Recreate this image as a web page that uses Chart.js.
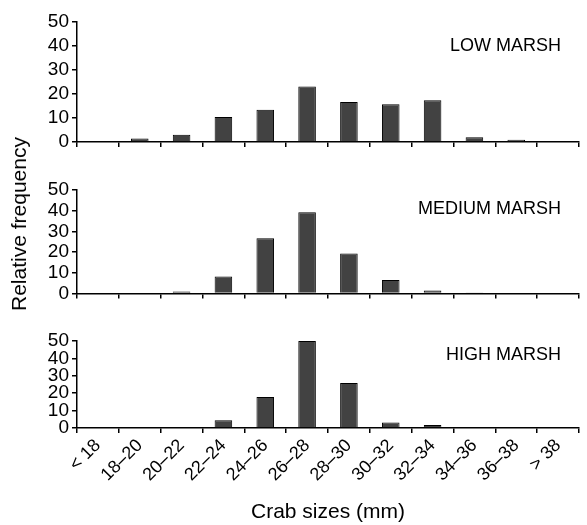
<!DOCTYPE html>
<html>
<head>
<meta charset="utf-8">
<script src="https://cdn.jsdelivr.net/npm/chart.js@4/dist/chart.umd.min.js"></script>
<style>
  html, body { margin: 0; padding: 0; background: #fff; }
  #wrap { position: relative; width: 587px; height: 525px; overflow: hidden; }
  .panel { position: absolute; left: 0; width: 587px; }
  #ytitle {
    position: absolute; left: 19px; top: 224px;
    transform: translate(-50%, -50%) rotate(-90deg);
    font: 21px "Liberation Sans", Arial, sans-serif; color: #000; white-space: nowrap;
  }
</style>
</head>
<body>
<div id="wrap">
  <div class="panel" id="p1"><canvas id="c1"></canvas></div>
  <div class="panel" id="p2"><canvas id="c2"></canvas></div>
  <div class="panel" id="p3"><canvas id="c3"></canvas></div>
  <div id="ytitle">Relative frequency</div>
</div>
<script>
// Crab size classes (mm)
const sizeClasses = ['< 18', '18–20', '20–22', '22–24', '24–26', '26–28', '28–30', '30–32', '32–34', '34–36', '36–38', '> 38'];

// Relative frequency (%) per marsh zone
const lowMarsh    = [0, 1.4, 3.0, 10.4, 13.4, 23.1, 16.6, 15.7, 17.4, 1.9, 0.9, 0];
const mediumMarsh = [0, 0, 1.0, 8.2, 26.7, 39.3, 19.3, 6.6, 1.5, 0.5, 0, 0];
const highMarsh   = [0, 0, 0, 4.4, 17.8, 50, 25.9, 3.1, 1.7, 0, 0, 0];

const yTicks = [0, 10, 20, 30, 40, 50];

const FONT = '"Liberation Sans", Arial, sans-serif';

// draws the zone name in the upper right of each panel
const panelLabel = {
  id: 'panelLabel',
  afterDraw(chart, args, opts) {
    const { ctx, chartArea, scales } = chart;
    ctx.save();
    ctx.font = '18px ' + FONT;
    ctx.fillStyle = '#000';
    ctx.textAlign = 'right';
    ctx.textBaseline = 'middle';
    ctx.fillText(opts.text, chartArea.right - 18, scales.y.getPixelForValue(opts.level));
    ctx.restore();
  }
};

function makePanel(id, divId, values, cfg) {
  const div = document.getElementById(divId);
  const padTop = 15;
  div.style.top = (cfg.plotTop - padTop) + 'px';
  div.style.height = (cfg.plotBottom + cfg.xHeight - cfg.plotTop + padTop) + 'px';

  return new Chart(document.getElementById(id), {
    type: 'bar',
    data: {
      labels: sizeClasses,
      datasets: [{
        data: values,
        backgroundColor: '#424242',
        borderColor: '#000',
        borderWidth: 1,
        barPercentage: 0.42,
        categoryPercentage: 1
      }]
    },
    options: {
      responsive: true,
      maintainAspectRatio: false,
      animation: false,
      layout: { padding: { top: padTop, right: 8, left: 0, bottom: 0 } },
      plugins: {
        legend: { display: false },
        tooltip: { enabled: false },
        panelLabel: { text: cfg.label, level: cfg.labelLevel }
      },
      scales: {
        x: {
          offset: true,
          grid: { offset: true, drawOnChartArea: false, color: '#000', lineWidth: 1.5, tickLength: 5 },
          border: { color: '#000', width: 1.5 },
          ticks: {
            display: cfg.showX,
            autoSkip: false,
            maxRotation: 45,
            minRotation: 45,
            padding: 2,
            color: '#000',
            font: { family: FONT, size: 18 }
          },
          title: {
            display: cfg.showX,
            text: 'Crab sizes (mm)',
            color: '#000',
            font: { family: FONT, size: 21 },
            padding: { top: 0, bottom: 0 }
          },
          afterFit: s => { s.height = cfg.xHeight; }
        },
        y: {
          min: 0,
          max: 50,
          afterBuildTicks: s => { s.ticks = yTicks.map(v => ({ value: v })); },
          grid: { drawOnChartArea: false, color: '#000', lineWidth: 1.5, tickLength: 5 },
          border: { color: '#000', width: 1.5 },
          ticks: { autoSkip: false, color: '#000', padding: 3, font: { family: FONT, size: 19 } },
          afterFit: s => { s.width = 77; }
        }
      }
    },
    plugins: [panelLabel]
  });
}

makePanel('c1', 'p1', lowMarsh,    { plotTop: 21.7, plotBottom: 144,   xHeight: 12, showX: false, label: 'LOW MARSH',    labelLevel: 40 });
makePanel('c2', 'p2', mediumMarsh, { plotTop: 190,  plotBottom: 296,   xHeight: 12, showX: false, label: 'MEDIUM MARSH', labelLevel: 41 });
makePanel('c3', 'p3', highMarsh,   { plotTop: 340.7, plotBottom: 427.7, xHeight: 97.3, showX: true, label: 'HIGH MARSH',  labelLevel: 42 });
</script>
</body>
</html>
